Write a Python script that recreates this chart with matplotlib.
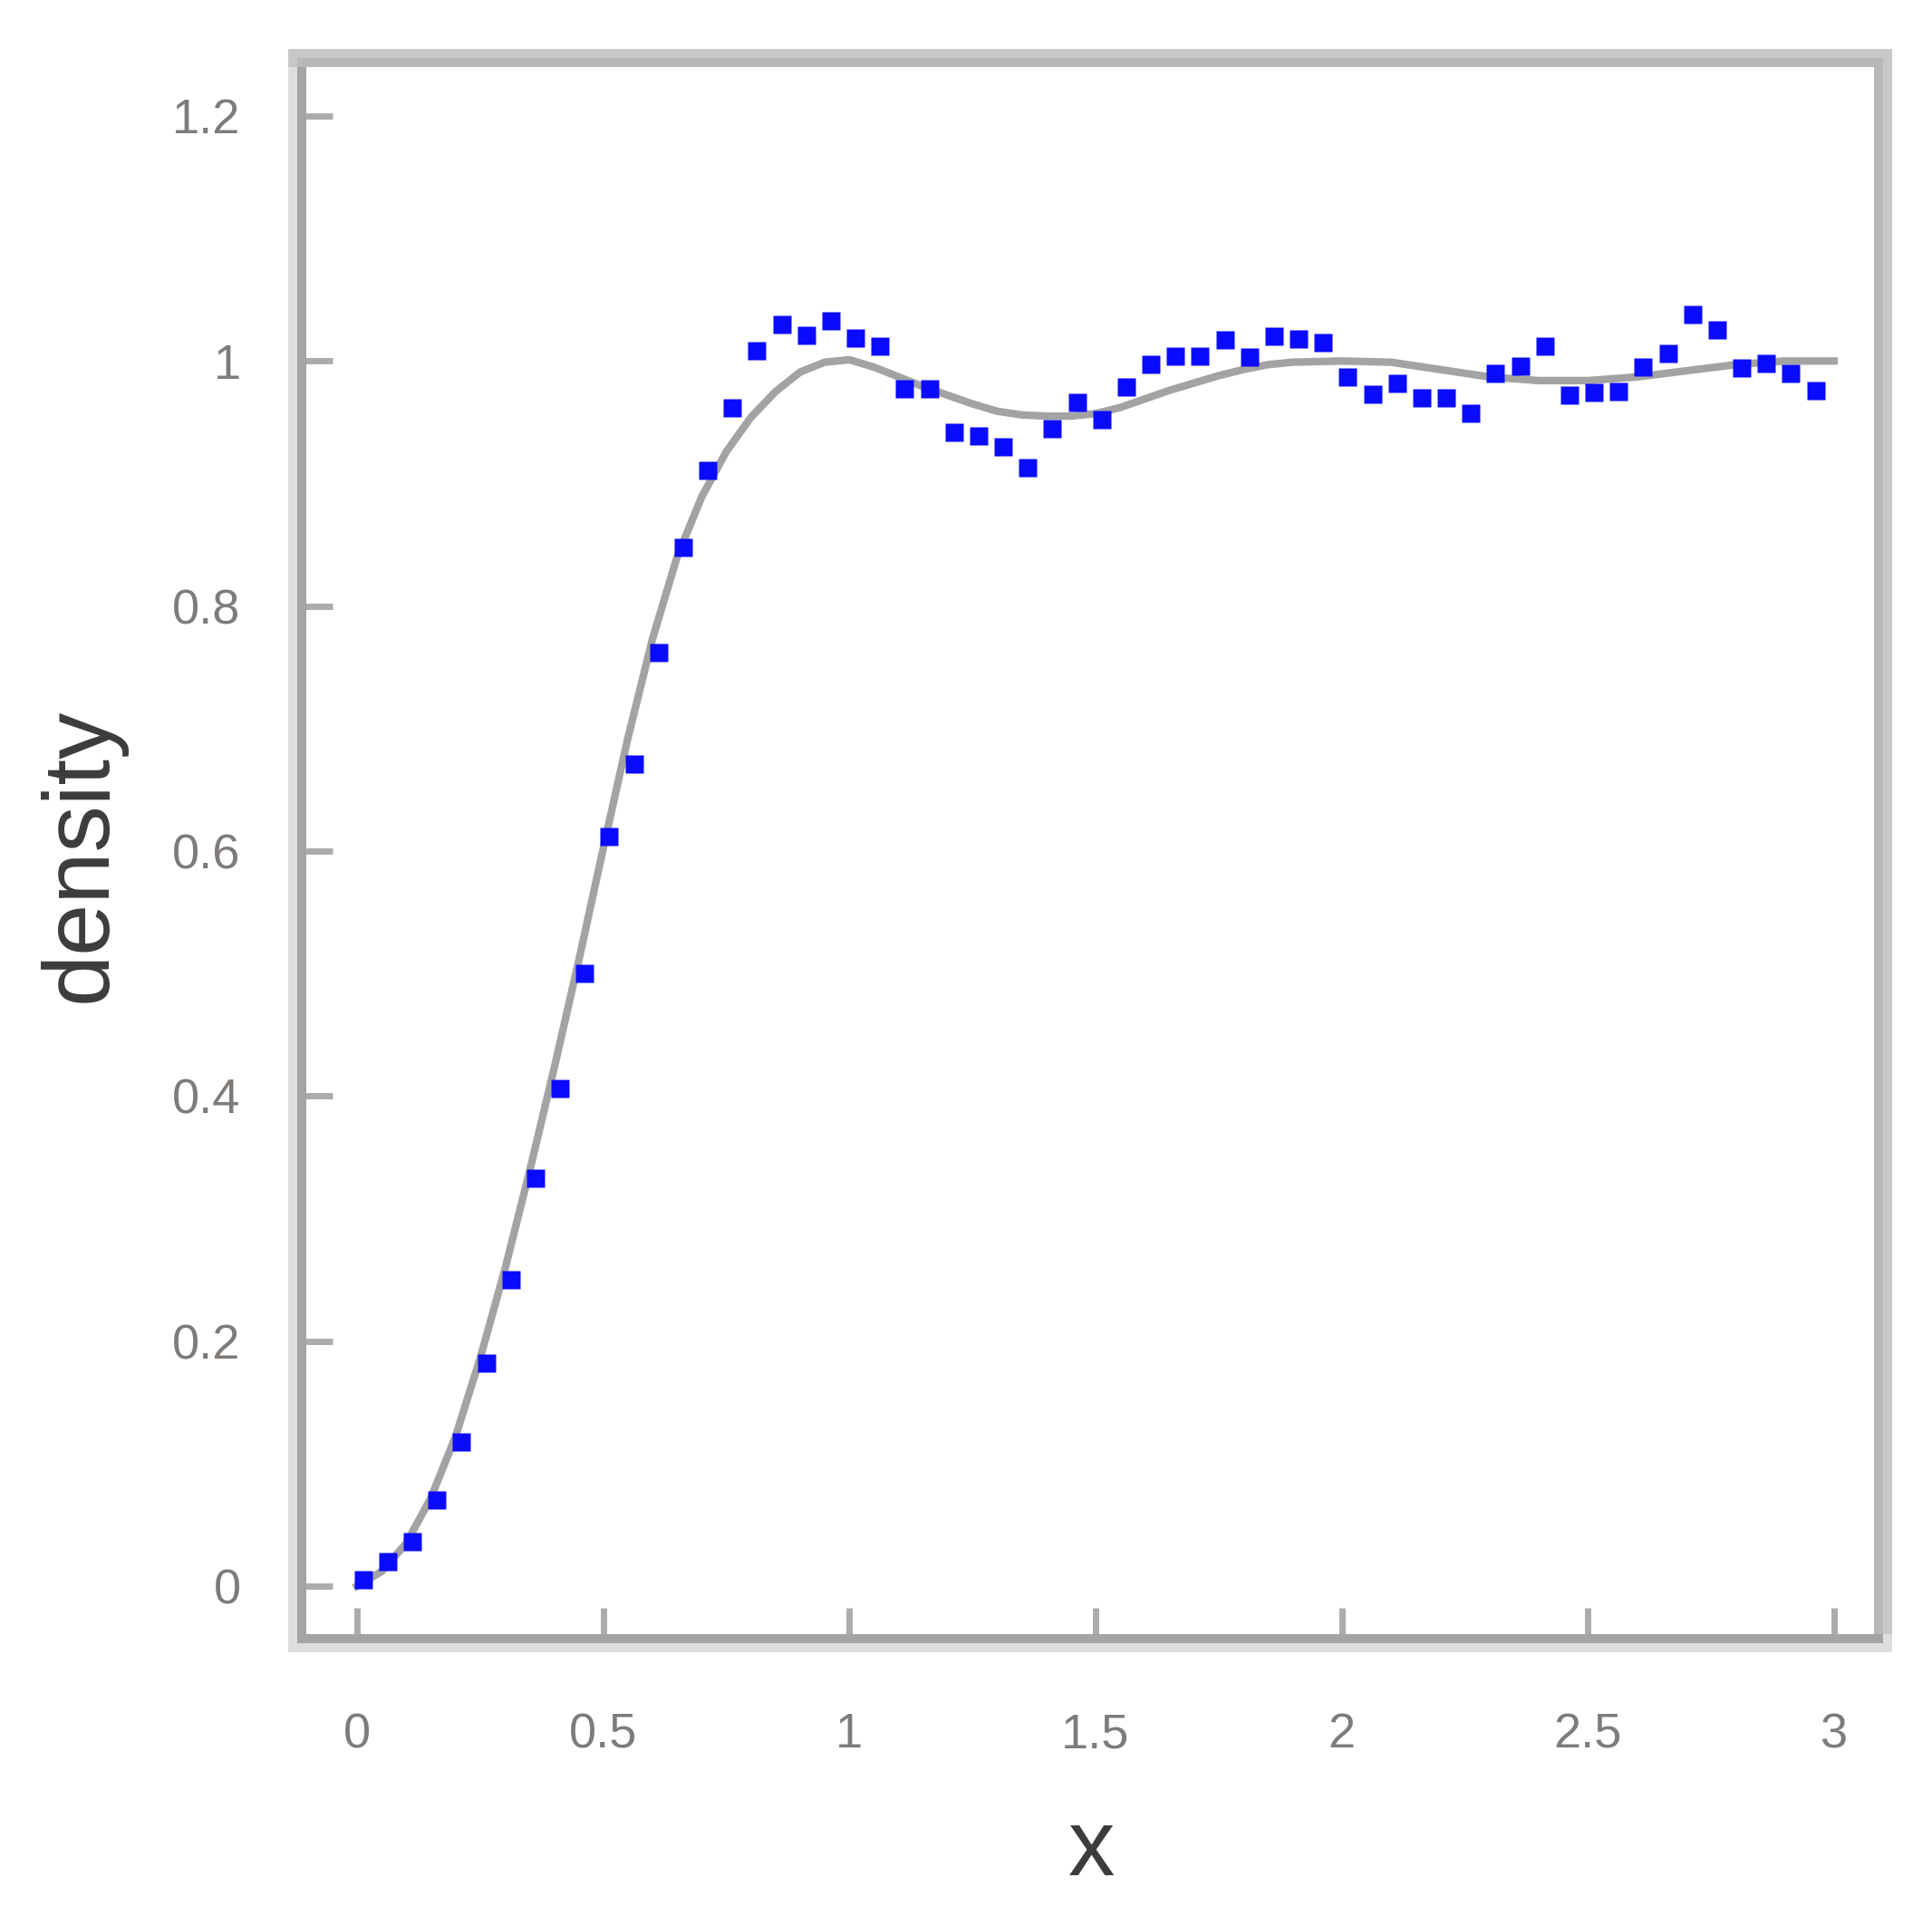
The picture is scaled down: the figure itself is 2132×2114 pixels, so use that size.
import matplotlib
matplotlib.use("Agg")
import matplotlib.pyplot as plt
import matplotlib.transforms as mtransforms

# binned density (blue squares)
x_pts = [0.0125, 0.0625, 0.1125, 0.1625, 0.2125, 0.2625, 0.3125, 0.3625, 0.4125, 0.4625,
         0.5125, 0.5625, 0.6125, 0.6625, 0.7125, 0.7625, 0.8125, 0.8625, 0.9125, 0.9625,
         1.0125, 1.0625, 1.1125, 1.1625, 1.2125, 1.2625, 1.3125, 1.3625, 1.4125, 1.4625,
         1.5125, 1.5625, 1.6125, 1.6625, 1.7125, 1.7625, 1.8125, 1.8625, 1.9125, 1.9625,
         2.0125, 2.0625, 2.1125, 2.1625, 2.2125, 2.2625, 2.3125, 2.3625, 2.4125, 2.4625,
         2.5125, 2.5625, 2.6125, 2.6625, 2.7125, 2.7625, 2.8125, 2.8625, 2.9125, 2.9625]
y_pts = [0.005, 0.020, 0.036, 0.070, 0.118, 0.182, 0.250, 0.333, 0.406, 0.500,
         0.612, 0.671, 0.762, 0.848, 0.911, 0.962, 1.008, 1.030, 1.021, 1.033,
         1.019, 1.012, 0.977, 0.977, 0.942, 0.939, 0.930, 0.913, 0.945, 0.966,
         0.952, 0.979, 0.997, 1.004, 1.004, 1.017, 1.003, 1.020, 1.018, 1.015,
         0.987, 0.973, 0.982, 0.970, 0.970, 0.957, 0.990, 0.996, 1.012, 0.972,
         0.974, 0.975, 0.995, 1.006, 1.038, 1.025, 0.994, 0.998, 0.990, 0.976]

# smooth reference curve (gray)
x_curve = [0.0, 0.05, 0.1, 0.15, 0.2, 0.25, 0.3, 0.35, 0.4, 0.45, 0.5, 0.55, 0.6, 0.65,
           0.7, 0.75, 0.8, 0.85, 0.9, 0.95, 1.0, 1.05, 1.1, 1.15, 1.2, 1.25, 1.3, 1.35,
           1.4, 1.45, 1.5, 1.55, 1.6, 1.65, 1.7, 1.75, 1.8, 1.85, 1.9, 2.0, 2.1, 2.2,
           2.3, 2.4, 2.5, 2.6, 2.7, 2.8, 2.9, 3.0]
y_curve = [0.0, 0.012, 0.035, 0.072, 0.122, 0.186, 0.258, 0.338, 0.422, 0.51, 0.602, 0.692,
           0.773, 0.840, 0.889, 0.926, 0.954, 0.975, 0.991, 0.999, 1.001, 0.995, 0.987, 0.979,
           0.972, 0.965, 0.959, 0.956, 0.955, 0.955, 0.957, 0.962, 0.969, 0.976, 0.982,
           0.988, 0.993, 0.997, 0.999, 1.0, 0.999, 0.993, 0.987, 0.984, 0.984, 0.987, 0.992,
           0.997, 1.0, 1.0]

x_ticks = [0, 0.5, 1, 1.5, 2, 2.5, 3]
x_ticklabels = ["0", "0.5", "1", "1.5", "2", "2.5", "3"]
y_ticks = [0, 0.2, 0.4, 0.6, 0.8, 1.0, 1.2]
y_ticklabels = ["0", "0.2", "0.4", "0.6", "0.8", "1", "1.2"]

plt.rcParams["font.family"] = ["Liberation Sans", "DejaVu Sans"]

W, H, DPI = 2132, 2114, 100
fig = plt.figure(figsize=(W / DPI, H / DPI), dpi=DPI)
L, R, T, B = 328, 2078, 64, 1813
ax = fig.add_axes([L / W, 1 - B / H, (R - L) / W, (B - T) / H])

ax.plot(x_curve, y_curve, color="#a3a3a3", lw=6, zorder=2)
ax.plot(x_pts, y_pts, ls="none", marker="s", ms=14.5, color="#0a0aff", mec="none", zorder=3)

ax.set_xlim(-0.1215, 3.0996)
ax.set_ylim(-0.0466, 1.2473)
ax.set_xticks(x_ticks)
ax.set_xticklabels(x_ticklabels)
ax.set_yticks(y_ticks)
ax.set_yticklabels(y_ticklabels)

ax.tick_params(axis="both", direction="in", length=28, width=5, color="#acacac",
               labelcolor="#7f7b78", labelsize=39)
ax.tick_params(axis="x", pad=55)
ax.tick_params(axis="y", pad=45)

# two-tone frame: light outer half, darker inner half
spine_pt = 20 * 72 / DPI
outer = {"left": "#dedede", "bottom": "#dedede", "top": "#c8c8c8", "right": "#c8c8c8"}
inner = {"left": "#a4a4a4", "bottom": "#a4a4a4", "top": "#b8b8b8", "right": "#b8b8b8"}
for side, sp in ax.spines.items():
    sp.set_color(outer[side])
    sp.set_linewidth(spine_pt)
    sp.set_zorder(4)
segs = {"left": ([0, 0], [0, 1], 5, 0), "right": ([1, 1], [0, 1], -5, 0),
        "bottom": ([0, 1], [0, 0], 0, 5), "top": ([0, 1], [1, 1], 0, -5)}
for side, (xs, ys, dx, dy) in segs.items():
    tr = mtransforms.offset_copy(ax.transAxes, fig=fig, x=dx, y=dy, units="dots")
    ax.plot(xs, ys, transform=tr, color=inner[side], lw=10 * 72 / DPI,
            clip_on=False, zorder=5, solid_capstyle="butt")

ax.set_xlabel("x", fontsize=74, color="#3c3c3c")
ax.set_ylabel("density", fontsize=74, color="#3c3c3c")
ax.xaxis.label.set_va("baseline")
ax.xaxis.set_label_coords((1205 - L) / (R - L), -(2069 - B) / (B - T))
ax.yaxis.label.set_va("baseline")
ax.yaxis.set_label_coords(-(L - 117) / (R - L), (B - 943) / (B - T))

fig.savefig("out.png", dpi=DPI)
